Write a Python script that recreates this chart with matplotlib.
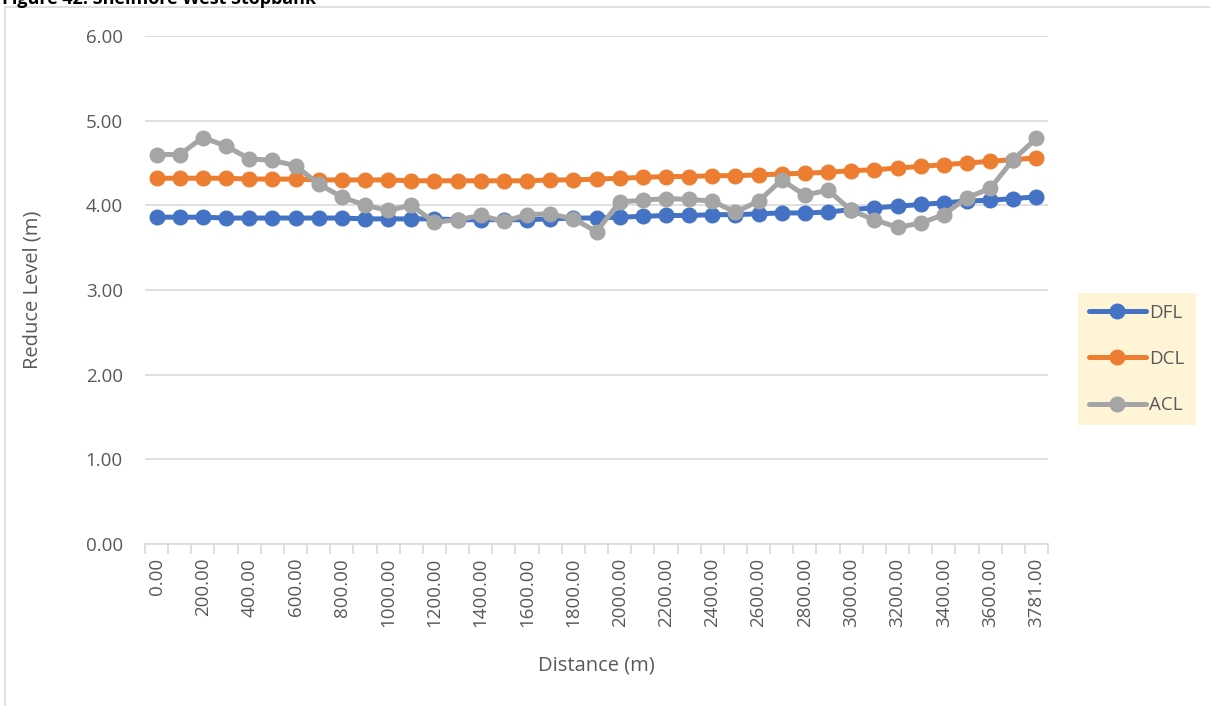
import matplotlib
matplotlib.use("Agg")
import matplotlib.pyplot as plt
from matplotlib.lines import Line2D

plt.rcParams['font.family'] = ['Open Sans', 'DejaVu Sans']

distances = [f"{d:.2f}" for d in range(0, 3800, 100)] + ["3781.00"]
dfl = [3.86, 3.86, 3.86, 3.85, 3.85, 3.85, 3.85, 3.85, 3.85, 3.84,
       3.84, 3.84, 3.84, 3.83, 3.83, 3.83, 3.83, 3.84, 3.85, 3.85,
       3.86, 3.87, 3.88, 3.88, 3.89, 3.89, 3.90, 3.91, 3.91, 3.92,
       3.95, 3.97, 3.99, 4.01, 4.03, 4.05, 4.06, 4.08, 4.10]
dcl = [4.32, 4.32, 4.32, 4.32, 4.31, 4.31, 4.31, 4.30, 4.30, 4.30,
       4.30, 4.29, 4.29, 4.29, 4.29, 4.29, 4.29, 4.30, 4.30, 4.31,
       4.32, 4.33, 4.34, 4.34, 4.35, 4.35, 4.36, 4.37, 4.38, 4.39,
       4.41, 4.42, 4.44, 4.46, 4.48, 4.50, 4.52, 4.54, 4.56]
acl = [4.60, 4.60, 4.80, 4.70, 4.55, 4.53, 4.47, 4.25, 4.10, 4.00,
       3.94, 4.00, 3.80, 3.83, 3.88, 3.81, 3.89, 3.90, 3.84, 3.69,
       4.04, 4.06, 4.08, 4.07, 4.05, 3.92, 4.05, 4.30, 4.12, 4.18,
       3.94, 3.83, 3.74, 3.79, 3.89, 4.09, 4.20, 4.54, 4.79]
series_names = ["DFL", "DCL", "ACL"]
colors = ["#4472C4", "#ED7D31", "#A5A5A5"]
y_ticks = [0, 1, 2, 3, 4, 5, 6]

W, H = 1210, 706
fig = plt.figure(figsize=(W / 100, H / 100), dpi=100)
ax = fig.add_axes([145 / W, (H - 544) / H, (1048 - 145) / W, (544 - 36) / H])

x = list(range(len(distances)))
handles = []
for name, vals, c in zip(series_names, [dfl, dcl, acl], colors):
    h, = ax.plot(x, vals, color=c, lw=3.6, marker='o', markersize=10.5,
                 label=name, solid_capstyle='round', zorder=3)
    handles.append(h)

ax.set_xlim(-0.5, len(distances) - 0.5)
ax.set_ylim(0, 6)
ax.set_yticks(y_ticks)
ax.set_yticklabels([f"{v:.2f}" for v in y_ticks])
ax.grid(axis='y', color='#D9D9D9', lw=1.2, zorder=0)
ax.set_axisbelow(True)

ax.set_xticks(x[::2])
ax.set_xticklabels(distances[::2], rotation=90)
ax.set_xticks([i - 0.5 for i in range(len(distances) + 1)], minor=True)
ax.tick_params(axis='x', which='major', length=0, pad=10, labelsize=13.5, colors='#595959')
ax.tick_params(axis='x', which='minor', length=7, color='#D9D9D9', width=1.2)
ax.tick_params(axis='y', length=0, pad=16, labelsize=13.5, colors='#595959')

for s in ['top', 'right', 'left']:
    ax.spines[s].set_visible(False)
ax.spines['bottom'].set_color('#D9D9D9')
ax.spines['bottom'].set_linewidth(1.2)

ax.set_xlabel("Distance (m)", fontsize=14.5, color='#595959', labelpad=20)
ax.set_ylabel("Reduce Level (m)", fontsize=14.5, color='#595959', labelpad=31)

leg = fig.legend(handles=handles, loc='center', bbox_to_anchor=(1137 / W, 1 - 359 / H),
                 frameon=True, fontsize=13.5, handlelength=3.0, labelspacing=1.5,
                 borderpad=0.6, handletextpad=0.2, borderaxespad=0, fancybox=False)
leg.get_frame().set_facecolor('#FFF2CC')
leg.get_frame().set_edgecolor('none')
for t in leg.get_texts():
    t.set_color('#595959')

# outer frame
fig.add_artist(Line2D([5 / W, 5 / W], [0, 1 - 7 / H], color='#D9D9D9', lw=1.2))
fig.add_artist(Line2D([5 / W, 1], [1 - 7 / H, 1 - 7 / H], color='#D9D9D9', lw=1.2))

fig.text(2 / W, 1 - 4 / H, "Figure 42: Shelmore West Stopbank", fontsize=13,
         fontweight='bold', va='baseline', ha='left', color='black')

fig.savefig("out.png", dpi=100)
